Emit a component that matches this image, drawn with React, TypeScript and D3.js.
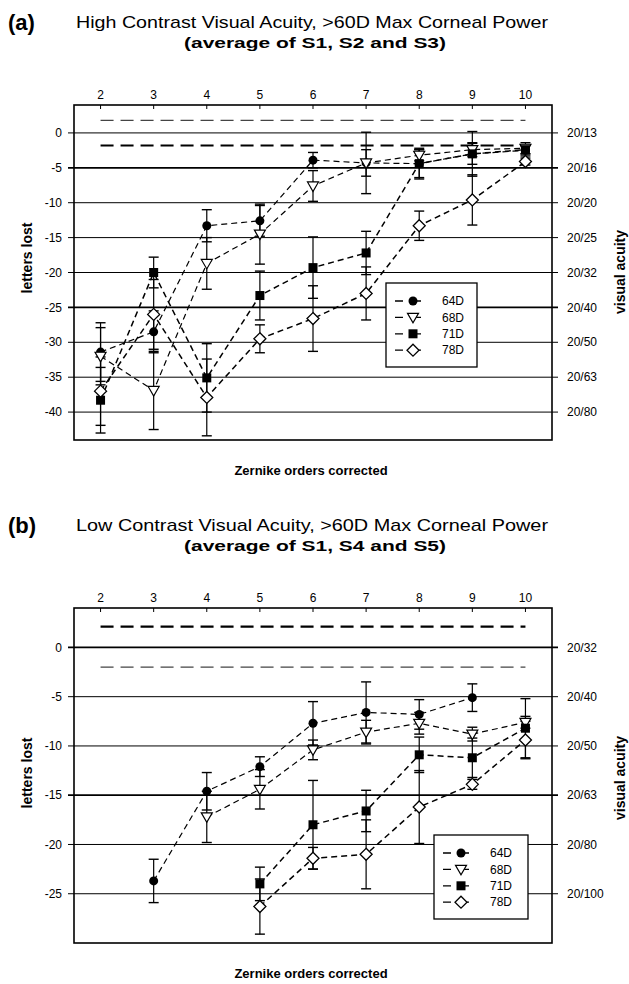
import React, { useEffect, useRef } from 'react';
import * as d3 from 'd3';

// Zernike orders corrected (top axis)
const orders = [2, 3, 4, 5, 6, 7, 8, 9, 10];
const seriesNames = ['64D', '68D', '71D', '78D'];

// (a) high contrast, letters lost
const hc64 = [-31.4, -28.5, -13.3, -12.6, -3.9, -4.3, -4.4, -3.0, -2.5];
const hc64Err = [4.2, 3.0, 2.3, 2.2, 1.1, 1.9, 2.0, 1.5, 0.8];
const hc68 = [-32.0, -36.9, -18.7, -14.5, -7.6, -4.3, -3.2, -2.4, -2.2];
const hc68Err = [4.1, 5.6, 3.7, 4.3, 2.2, 4.4, 0.8, 1.0, 0.8];
const hc71 = [-38.3, -20.0, -35.1, -23.3, -19.3, -17.2, -4.4, -3.0, -2.4];
const hc71Err = [4.7, 2.2, 4.9, 3.5, 4.4, 3.1, 2.2, 3.2, 0.6];
const hc78 = [-37.0, -26.0, -37.9, -29.5, -26.6, -23.0, -13.3, -9.6, -4.1];
const hc78Err = [4.9, 5.0, 5.5, 2.0, 4.7, 3.8, 2.1, 3.6, 0.5];
const hcRefLines = [1.8, -1.8];
const hcTicks = [0, -5, -10, -15, -20, -25, -30, -35, -40];
const hcAcuity = ['20/13', '20/16', '20/20', '20/25', '20/32', '20/40', '20/50', '20/63', '20/80'];

// (b) low contrast, letters lost
const lc64 = [null, -23.7, -14.6, -12.1, -7.7, -6.6, -6.8, -5.1, null];
const lc64Err = [null, 2.2, 1.9, 1.0, 2.2, 3.1, 1.5, 1.4, null];
const lc68 = [null, null, -17.2, -14.4, -10.4, -8.6, -7.7, -8.8, -7.6];
const lc68Err = [null, null, 2.6, 2.0, 1.0, 1.2, 1.1, 0.7, 0.6];
const lc71 = [null, null, null, -24.0, -18.0, -16.6, -10.9, -11.2, -8.2];
const lc71Err = [null, null, null, 1.7, 4.5, 2.1, 1.8, 2.0, 3.0];
const lc78 = [null, null, null, -26.3, -21.4, -21.0, -16.2, -13.9, -9.4];
const lc78Err = [null, null, null, 2.8, 1.1, 3.5, 3.7, 0.5, 1.9];
const lcRefLines = [2.1, -2.0];
const lcTicks = [0, -5, -10, -15, -20, -25];
const lcAcuity = ['20/32', '20/40', '20/50', '20/63', '20/80', '20/100'];

type Val = number | null;

interface PanelConfig {
  letter: string;
  title: string;
  subtitle: string;
  top: number; // y of plot box top
  bottom: number;
  domain: [number, number];
  ticks: number[];
  acuity: string[];
  thickTicks: number[];
  refLines: number[];
  refStyles: { width: number; color: string }[];
  series: { values: Val[]; errors: Val[] }[];
  legend: { x: number; y: number; w: number; h: number };
  yLabelCenter: number;
  vaLabel: { x: number; y: number };
}

const FONT = 'Arial, "Liberation Sans", Helvetica, sans-serif';

const panels: PanelConfig[] = [
  {
    letter: '(a)',
    title: 'High Contrast Visual Acuity, >60D Max Corneal Power',
    subtitle: '(average of S1, S2 and S3)',
    top: 105,
    bottom: 440,
    domain: [4, -44],
    ticks: hcTicks,
    acuity: hcAcuity,
    thickTicks: [-5, -25],
    refLines: hcRefLines,
    refStyles: [{ width: 1.2, color: '#444' }, { width: 2.2, color: '#000' }],
    series: [
      { values: hc64, errors: hc64Err },
      { values: hc68, errors: hc68Err },
      { values: hc71, errors: hc71Err },
      { values: hc78, errors: hc78Err },
    ],
    legend: { x: 386, y: 283, w: 91, h: 84 },
    yLabelCenter: 258,
    vaLabel: { x: 620, y: 272 },
  },
  {
    letter: '(b)',
    title: 'Low Contrast Visual Acuity, >60D Max Corneal Power',
    subtitle: '(average of S1, S4 and S5)',
    top: 608,
    bottom: 943,
    domain: [4, -30],
    ticks: lcTicks,
    acuity: lcAcuity,
    thickTicks: [0, -15],
    refLines: lcRefLines,
    refStyles: [{ width: 2.2, color: '#000' }, { width: 1.2, color: '#444' }],
    series: [
      { values: lc64, errors: lc64Err },
      { values: lc68, errors: lc68Err },
      { values: lc71, errors: lc71Err },
      { values: lc78, errors: lc78Err },
    ],
    legend: { x: 434, y: 835, w: 94, h: 84 },
    yLabelCenter: 773,
    vaLabel: { x: 620, y: 778 },
  },
];

function drawMarker(g: d3.Selection<SVGGElement, unknown, null, undefined>, kind: number, x: number, y: number) {
  if (kind === 0) {
    g.append('circle').attr('cx', x).attr('cy', y).attr('r', 4.5).attr('fill', '#000');
  } else if (kind === 1) {
    g.append('path')
      .attr('d', `M${x - 5.5},${y - 4} L${x + 5.5},${y - 4} L${x},${y + 5.5} Z`)
      .attr('fill', '#fff')
      .attr('stroke', '#000')
      .attr('stroke-width', 1.2);
  } else if (kind === 2) {
    g.append('rect').attr('x', x - 4.5).attr('y', y - 4.5).attr('width', 9).attr('height', 9).attr('fill', '#000');
  } else {
    g.append('path')
      .attr('d', `M${x},${y - 6} L${x + 6},${y} L${x},${y + 6} L${x - 6},${y} Z`)
      .attr('fill', '#fff')
      .attr('stroke', '#000')
      .attr('stroke-width', 1.3);
  }
}

const App: React.FC = () => {
  const svgRef = useRef<SVGSVGElement>(null);

  useEffect(() => {
    if (!svgRef.current) return;
    const svg = d3.select(svgRef.current);
    svg.selectAll('*').remove();

    const left = 74;
    const right = 552;
    const xScale = d3.scaleLinear().domain([1.5, 10.5]).range([left, right]);

    panels.forEach(p => {
      const g = svg.append('g').style('font-family', FONT);
      const yScale = d3.scaleLinear().domain(p.domain).range([p.top, p.bottom]);

      // Titles
      g.append('text')
        .attr('x', 8).attr('y', p.top - 75)
        .style('font-size', '22px').style('font-weight', 'bold')
        .text(p.letter);
      g.append('text')
        .attr('x', 312).attr('y', p.top - 77)
        .attr('text-anchor', 'middle')
        .attr('textLength', 472).attr('lengthAdjust', 'spacingAndGlyphs')
        .style('font-size', '17px')
        .text(p.title);
      g.append('text')
        .attr('x', 315).attr('y', p.top - 57)
        .attr('text-anchor', 'middle')
        .attr('textLength', 262).attr('lengthAdjust', 'spacingAndGlyphs')
        .style('font-size', '14px').style('font-weight', 'bold')
        .text(p.subtitle);

      // Grid lines with outer ticks on both sides
      p.ticks.forEach((t, i) => {
        const y = yScale(t);
        g.append('line')
          .attr('x1', left - 6).attr('x2', right + 6)
          .attr('y1', y).attr('y2', y)
          .attr('stroke', '#000')
          .attr('stroke-width', p.thickTicks.includes(t) ? 1.8 : 1);
        g.append('text')
          .attr('x', 62).attr('y', y).attr('dy', '0.35em')
          .attr('text-anchor', 'end')
          .style('font-size', '12px')
          .text(t === 0 ? '0' : String(t));
        g.append('text')
          .attr('x', 567).attr('y', y).attr('dy', '0.35em')
          .style('font-size', '12px')
          .text(p.acuity[i]);
      });

      // Top axis: labels and small inner ticks
      orders.forEach(o => {
        g.append('text')
          .attr('x', xScale(o)).attr('y', p.top - 10)
          .attr('dy', '0.35em')
          .attr('text-anchor', 'middle')
          .style('font-size', '12px')
          .text(String(o));
        g.append('line')
          .attr('x1', xScale(o)).attr('x2', xScale(o))
          .attr('y1', p.top).attr('y2', p.top + 4)
          .attr('stroke', '#000').attr('stroke-width', 1);
      });

      // Reference dashed lines
      p.refLines.forEach((v, i) => {
        g.append('line')
          .attr('x1', xScale(2)).attr('x2', xScale(10))
          .attr('y1', yScale(v)).attr('y2', yScale(v))
          .attr('stroke', p.refStyles[i].color)
          .attr('stroke-width', p.refStyles[i].width)
          .attr('stroke-dasharray', '13,7');
      });

      // Plot box
      g.append('rect')
        .attr('x', left).attr('y', p.top)
        .attr('width', right - left).attr('height', p.bottom - p.top)
        .attr('fill', 'none')
        .attr('stroke', '#000').attr('stroke-width', 1.6);

      // Series: error bars, lines, markers
      const line = d3.line<[number, Val]>()
        .defined(d => d[1] !== null)
        .x(d => xScale(d[0]))
        .y(d => yScale(d[1] as number));

      p.series.forEach(s => {
        orders.forEach((o, i) => {
          const v = s.values[i];
          const e = s.errors[i];
          if (v === null || e === null) return;
          const x = xScale(o);
          const y1 = yScale(v + e);
          const y2 = yScale(v - e);
          g.append('line').attr('x1', x).attr('x2', x).attr('y1', y1).attr('y2', y2)
            .attr('stroke', '#000').attr('stroke-width', 1.2);
          [y1, y2].forEach(yy => {
            g.append('line').attr('x1', x - 5).attr('x2', x + 5).attr('y1', yy).attr('y2', yy)
              .attr('stroke', '#000').attr('stroke-width', 1.4);
          });
        });
      });

      p.series.forEach((s, si) => {
        const pts = orders.map((o, i) => [o, s.values[i]] as [number, Val]);
        g.append('path')
          .datum(pts)
          .attr('fill', 'none')
          .attr('stroke', '#000')
          .attr('stroke-width', si >= 2 ? 1.5 : 1.2)
          .attr('stroke-dasharray', '6,4')
          .attr('d', line);
      });

      p.series.forEach((s, si) => {
        orders.forEach((o, i) => {
          const v = s.values[i];
          if (v === null) return;
          drawMarker(g, si, xScale(o), yScale(v));
        });
      });

      // Legend
      const L = p.legend;
      const lg = g.append('g');
      lg.append('rect')
        .attr('x', L.x).attr('y', L.y).attr('width', L.w).attr('height', L.h)
        .attr('fill', '#fff').attr('stroke', '#000').attr('stroke-width', 1.3);
      seriesNames.forEach((name, i) => {
        const cy = L.y + 18 + i * 16.4;
        const mx = L.x + 27;
        lg.append('line')
          .attr('x1', L.x + 9).attr('x2', L.x + 45)
          .attr('y1', cy).attr('y2', cy)
          .attr('stroke', '#000').attr('stroke-width', 1.3)
          .attr('stroke-dasharray', '8,10');
        drawMarker(lg, i, mx, cy);
        lg.append('text')
          .attr('x', L.x + 56).attr('y', cy).attr('dy', '0.35em')
          .style('font-size', '12px')
          .text(name);
      });

      // Axis labels
      g.append('text')
        .attr('transform', `translate(27,${p.yLabelCenter}) rotate(-90)`)
        .attr('text-anchor', 'middle').attr('dy', '0.35em')
        .style('font-size', '14px').style('font-weight', 'bold')
        .text('letters lost');
      g.append('text')
        .attr('transform', `translate(${p.vaLabel.x},${p.vaLabel.y}) rotate(-90)`)
        .attr('text-anchor', 'middle').attr('dy', '0.35em')
        .style('font-size', '14px').style('font-weight', 'bold')
        .text('visual acuity');
      g.append('text')
        .attr('x', 311).attr('y', p.bottom + 30)
        .attr('dy', '0.35em')
        .attr('text-anchor', 'middle')
        .style('font-size', '13px').style('font-weight', 'bold')
        .text('Zernike orders corrected');
    });
  }, []);

  return (
    <div style={{ position: 'absolute', left: 0, top: 0 }}>
      <svg ref={svgRef} width={629} height={984} style={{ display: 'block', background: '#fff' }} />
    </div>
  );
};

export default App;
